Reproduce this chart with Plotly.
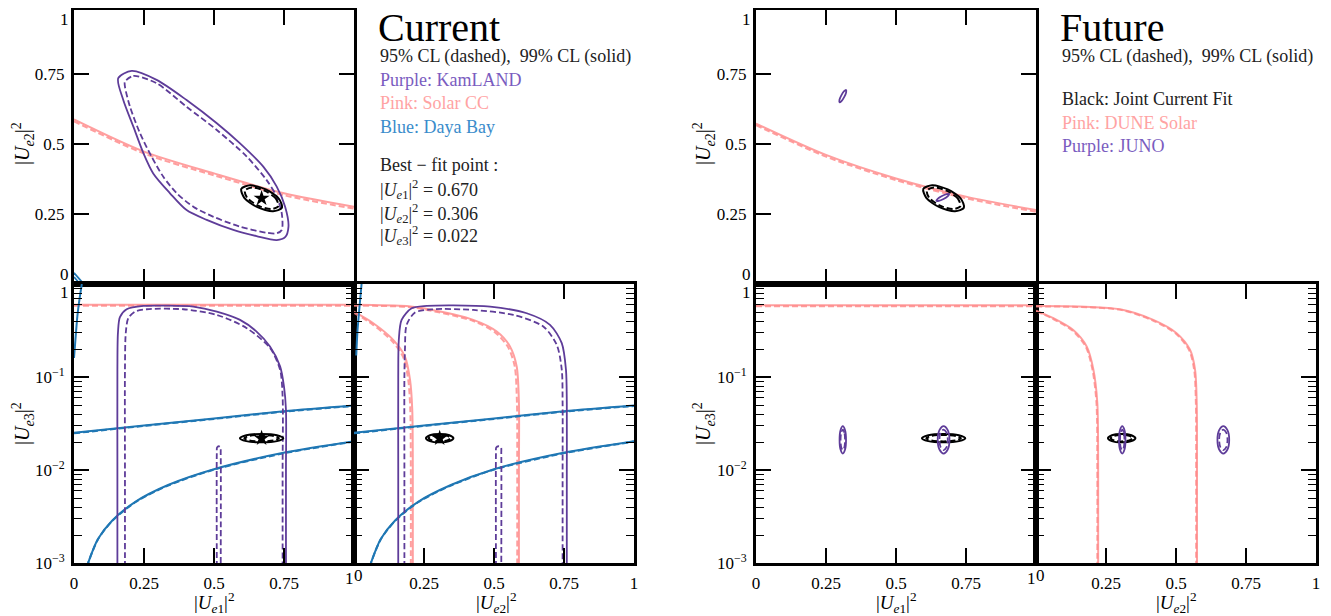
import plotly.graph_objects as go

W, H = 1331, 616
PAGE_OFFSET = 8   # the page body margin that the browser puts round the figure
FONT = "Liberation Serif"

PURPLE = "#5e3c99"
PINK = "rgba(255,135,135,0.8)"
BLUE = "#1f77b4"
BLACK = "#000000"

# ---------------- best-fit point ----------------
BEST_UE1 = 0.670
BEST_UE2 = 0.306
BEST_UE3 = 0.022

# ---------------- CURRENT: |Ue1|^2 vs |Ue2|^2 ----------------
KL12_SOLID_X = [0.158, 0.206, 0.295, 0.402, 0.510, 0.593, 0.676, 0.724, 0.754, 0.766, 0.754, 0.724,
                0.652, 0.569, 0.474, 0.402, 0.343, 0.283, 0.248, 0.212, 0.176, 0.158]
KL12_SOLID_Y = [0.735, 0.761, 0.729, 0.657, 0.574, 0.502, 0.419, 0.348, 0.276, 0.205, 0.167, 0.157,
                0.171, 0.193, 0.229, 0.264, 0.324, 0.395, 0.467, 0.562, 0.657, 0.735]
KL12_DASH_X = [0.182, 0.212, 0.295, 0.402, 0.510, 0.617, 0.688, 0.724, 0.742, 0.742, 0.724, 0.688,
               0.593, 0.498, 0.426, 0.367, 0.319, 0.277, 0.236, 0.200, 0.182, 0.182]
KL12_DASH_Y = [0.723, 0.743, 0.717, 0.633, 0.550, 0.455, 0.371, 0.312, 0.252, 0.193, 0.181, 0.183,
               0.205, 0.240, 0.276, 0.324, 0.383, 0.455, 0.538, 0.633, 0.705, 0.723]

SOLAR12_X = [0.0, 0.25, 0.5, 0.75, 1.0]
SOLAR12_SOLID_Y = [0.588, 0.473, 0.395, 0.324, 0.276]
SOLAR12_DASH_Y = [0.581, 0.466, 0.388, 0.317, 0.269]

DB12_A_X = [0.0, 0.035]
DB12_A_Y = [0.040, 0.0]
DB12_B_X = [0.0, 0.022]
DB12_B_Y = [0.025, 0.0]

BLACK12_SOLID_X = [0.7425, 0.7318, 0.6848, 0.6292, 0.5975, 0.6082, 0.6552, 0.7108, 0.7425]
BLACK12_SOLID_Y = [0.2722, 0.3045, 0.3377, 0.3523, 0.3398, 0.3075, 0.2743, 0.2597, 0.2722]
BLACK12_DASH_X = [0.7298, 0.7210, 0.6823, 0.6364, 0.6102, 0.6190, 0.6577, 0.7036, 0.7298]
BLACK12_DASH_Y = [0.2781, 0.3048, 0.3323, 0.3444, 0.3339, 0.3072, 0.2797, 0.2676, 0.2781]

# ---------------- CURRENT: |Ue1|^2 vs |Ue3|^2 ----------------
KL13_SOLID_X = [0.155, 0.155, 0.155, 0.157, 0.164, 0.188, 0.248, 0.331, 0.426, 0.510, 0.593, 0.652,
                0.700, 0.736, 0.750, 0.757, 0.757, 0.757]
KL13_SOLID_Y = [0.0009, 0.01, 0.12, 0.30, 0.44, 0.535, 0.581, 0.585, 0.571, 0.505, 0.411, 0.308,
                0.213, 0.130, 0.079, 0.0447, 0.01, 0.0009]
KL13_DASH_X = [0.182, 0.182, 0.182, 0.185, 0.194, 0.218, 0.260, 0.390, 0.510, 0.617, 0.700, 0.736,
               0.745, 0.745, 0.745]
KL13_DASH_Y = [0.0009, 0.01, 0.12, 0.30, 0.429, 0.505, 0.535, 0.535, 0.465, 0.335, 0.205, 0.12,
               0.062, 0.01, 0.0009]
KL13_SPIKE_X = [0.510, 0.510, 0.511, 0.517, 0.523, 0.524, 0.524]
KL_SPIKE_Y = [0.0009, 0.015, 0.0175, 0.018, 0.0175, 0.015, 0.0009]

SOLAR13_X = [0.0, 1.0]
SOLAR13_SOLID_Y = [0.600, 0.600]
SOLAR13_DASH_Y = [0.585, 0.585]

DB_UP_X = [0.0, 0.25, 0.5, 0.75, 1.0]
DB_UP_SOLID_Y = [0.0251, 0.0301, 0.0358, 0.0428, 0.0493]
DB_UP_DASH_Y = [0.0248, 0.0298, 0.0354, 0.0424, 0.0488]
DB_LO_X = [0.045, 0.085, 0.136, 0.219, 0.336, 0.5, 0.748, 1.0]
DB_LO_SOLID_Y = [0.0009, 0.00180, 0.00285, 0.00455, 0.0069, 0.0102, 0.0153, 0.0204]
DB_LO_DASH_Y = [0.0009, 0.00178, 0.00282, 0.00450, 0.0068, 0.0101, 0.0151, 0.0202]
DB23_LO_X = [0.055, 0.095, 0.146, 0.229, 0.346, 0.5, 0.748, 1.0]
DB13_STEEP_X = [0.0, 0.005, 0.012, 0.020, 0.028]
DB13_STEEP_Y = [0.16, 0.25, 0.45, 0.70, 1.0]

BLACK13_SOLID_X = [0.7475, 0.7248, 0.67, 0.6152, 0.5925, 0.6152, 0.67, 0.7248, 0.7475]
BLACK13_DASH_X = [0.732, 0.7138, 0.67, 0.6262, 0.608, 0.6262, 0.67, 0.7138, 0.732]
BLACK_E3_SOLID_Y = [0.022, 0.02366, 0.0244, 0.02366, 0.022, 0.02045, 0.01983, 0.02045, 0.022]
BLACK_E3_DASH_Y = [0.022, 0.02326, 0.02384, 0.02326, 0.022, 0.02081, 0.0203, 0.02081, 0.022]

# ---------------- CURRENT: |Ue2|^2 vs |Ue3|^2 ----------------
KL23_SOLID_X = [0.158, 0.158, 0.158, 0.160, 0.170, 0.206, 0.260, 0.355, 0.486, 0.617, 0.700, 0.742,
                0.757, 0.760, 0.760, 0.760]
KL23_SOLID_Y = [0.0009, 0.01, 0.10, 0.25, 0.411, 0.548, 0.581, 0.590, 0.571, 0.485, 0.364, 0.231,
                0.12, 0.0526, 0.01, 0.0009]
KL23_DASH_X = [0.180, 0.180, 0.180, 0.182, 0.188, 0.218, 0.283, 0.426, 0.569, 0.676, 0.724, 0.742,
               0.745, 0.745, 0.745]
KL23_DASH_Y = [0.0009, 0.01, 0.10, 0.20, 0.364, 0.493, 0.535, 0.526, 0.465, 0.349, 0.222, 0.12,
               0.0526, 0.01, 0.0009]
KL23_SPIKE_X = [0.507, 0.507, 0.508, 0.516, 0.525, 0.526, 0.526]

SOLAR23_OUT_SOLID_X = [0.0, 0.188, 0.248, 0.426, 0.510, 0.557, 0.581, 0.589, 0.589, 0.589]
SOLAR23_OUT_SOLID_Y = [0.600, 0.581, 0.548, 0.411, 0.308, 0.213, 0.130, 0.0526, 0.01, 0.0009]
SOLAR23_OUT_DASH_X = [0.0, 0.188, 0.248, 0.426, 0.505, 0.550, 0.574, 0.582, 0.583, 0.583]
SOLAR23_OUT_DASH_Y = [0.585, 0.568, 0.535, 0.400, 0.300, 0.210, 0.130, 0.0526, 0.01, 0.0009]
SOLAR23_IN_SOLID_X = [0.0, 0.069, 0.140, 0.182, 0.200, 0.208, 0.210, 0.210]
SOLAR23_IN_SOLID_Y = [0.505, 0.379, 0.251, 0.166, 0.0936, 0.0447, 0.01, 0.0009]
SOLAR23_IN_DASH_X = [0.0, 0.065, 0.135, 0.176, 0.194, 0.201, 0.203, 0.203]
SOLAR23_IN_DASH_Y = [0.490, 0.370, 0.245, 0.163, 0.092, 0.0447, 0.01, 0.0009]

DB23_STEEP_X = [0.008, 0.012, 0.018, 0.027]
DB23_STEEP_Y = [0.17, 0.30, 0.50, 1.0]

BLACK23_SOLID_X = [0.355, 0.3407, 0.306, 0.2713, 0.257, 0.2713, 0.306, 0.3407, 0.355]
BLACK23_DASH_X = [0.345, 0.3336, 0.306, 0.2784, 0.267, 0.2784, 0.306, 0.3336, 0.345]

# ---------------- FUTURE ----------------
DUNE12_X = [0.0, 0.25, 0.5, 0.75, 1.0]
DUNE12_SOLID_Y = [0.573, 0.461, 0.377, 0.312, 0.264]
DUNE12_DASH_Y = [0.567, 0.455, 0.371, 0.306, 0.258]

JUNO12_A_X = [0.3217, 0.3146, 0.3047, 0.2980, 0.2983, 0.3054, 0.3153, 0.3220, 0.3217]
JUNO12_A_Y = [0.6931, 0.6886, 0.6738, 0.6574, 0.6489, 0.6534, 0.6682, 0.6846, 0.6931]
JUNO12_B_X = [0.6900, 0.6812, 0.6642, 0.6488, 0.6440, 0.6528, 0.6698, 0.6852, 0.6900]
JUNO12_B_Y = [0.3212, 0.3213, 0.3143, 0.3041, 0.2968, 0.2967, 0.3037, 0.3139, 0.3212]

DUNE13_X = [0.0, 1.0]
DUNE13_SOLID_Y = [0.590, 0.590]
DUNE13_DASH_Y = [0.578, 0.578]

JUNO_E3_SOLID_Y = [0.0211, 0.0268, 0.0296, 0.0268, 0.0211, 0.0166, 0.01503, 0.0166, 0.0211]
JUNO_E3_DASH_Y = [0.0211, 0.0252, 0.0272, 0.0252, 0.0211, 0.0176, 0.01637, 0.0176, 0.0211]
JUNO13_A_X = [0.3215, 0.3181, 0.31, 0.3019, 0.2985, 0.3019, 0.31, 0.3181, 0.3215]
JUNO13_A_DASH_X = [0.318, 0.3157, 0.31, 0.3043, 0.302, 0.3043, 0.31, 0.3157, 0.318]
JUNO13_B_X = [0.691, 0.6848, 0.67, 0.6552, 0.649, 0.6552, 0.67, 0.6848, 0.691]
JUNO13_B_DASH_X = [0.685, 0.6806, 0.67, 0.6594, 0.655, 0.6594, 0.67, 0.6806, 0.685]

DUNE23_OUT_SOLID_X = [0.0, 0.300, 0.419, 0.502, 0.550, 0.568, 0.574, 0.575, 0.575]
DUNE23_OUT_SOLID_Y = [0.581, 0.535, 0.411, 0.296, 0.196, 0.120, 0.0526, 0.01, 0.0009]
DUNE23_OUT_DASH_X = [0.0, 0.297, 0.416, 0.499, 0.547, 0.565, 0.571, 0.572, 0.572]
DUNE23_OUT_DASH_Y = [0.574, 0.530, 0.407, 0.293, 0.194, 0.119, 0.0526, 0.01, 0.0009]
DUNE23_IN_SOLID_X = [0.0, 0.062, 0.133, 0.181, 0.205, 0.219, 0.222, 0.222]
DUNE23_IN_SOLID_Y = [0.518, 0.429, 0.320, 0.213, 0.120, 0.0526, 0.01, 0.0009]
DUNE23_IN_DASH_X = [0.0, 0.060, 0.130, 0.178, 0.202, 0.216, 0.219, 0.219]
DUNE23_IN_DASH_Y = [0.510, 0.423, 0.316, 0.211, 0.119, 0.0526, 0.01, 0.0009]

JUNO23_A_X = [0.3195, 0.3161, 0.308, 0.2999, 0.2965, 0.2999, 0.308, 0.3161, 0.3195]
JUNO23_A_DASH_X = [0.316, 0.3137, 0.308, 0.3023, 0.300, 0.3023, 0.308, 0.3137, 0.316]
JUNO23_B_X = [0.690, 0.6838, 0.669, 0.6542, 0.648, 0.6542, 0.669, 0.6838, 0.690]
JUNO23_B_DASH_X = [0.684, 0.6796, 0.669, 0.6584, 0.654, 0.6584, 0.669, 0.6796, 0.684]

# ---------------- text ----------------
CURRENT_LINES = [
    ("95% CL (dashed),  99% CL (solid)", "#222222", 56),
    ("Purple: KamLAND", "#7a5cc0", 80),
    ("Pink: Solar CC", "#ffa3a3", 103),
    ("Blue: Daya Bay", "#3a8ccb", 127),
    ("Best − fit point :", "#222222", 165),
    ("|<i>U</i><sub><i>e</i>1</sub>|<sup>2</sup> = 0.670", "#222222", 190),
    ("|<i>U</i><sub><i>e</i>2</sub>|<sup>2</sup> = 0.306", "#222222", 213),
    ("|<i>U</i><sub><i>e</i>3</sub>|<sup>2</sup> = 0.022", "#222222", 236),
]
FUTURE_LINES = [
    ("95% CL (dashed),  99% CL (solid)", "#222222", 56),
    ("Black: Joint Current Fit", "#222222", 99),
    ("Pink: DUNE Solar", "#ffa3a3", 123),
    ("Purple: JUNO", "#7a5cc0", 146),
]

# ---------------- geometry (screen pixels) ----------------
def px(x):
    return (x - PAGE_OFFSET) / W

def py(y):
    return 1 - (y - PAGE_OFFSET) / H

PANEL_X = {1: (74, 354), 2: (74, 354), 3: (354, 634), 4: (756, 1036), 5: (756, 1036), 6: (1036, 1316)}
TOP_EDGE = PAGE_OFFSET + 2      # top panels start as high as the page allows
TOP_Y = (TOP_EDGE, 284)
TOP_YMAX = (284 - TOP_EDGE) / 280.0   # keeps 280 px per unit, as on the x axes
BOT_Y = (284, 563)

fig = go.Figure()


def add(panel, xs, ys, color, dash="solid", width=1.8):
    ax = "" if panel == 1 else str(panel)
    fig.add_trace(go.Scatter(
        x=xs, y=ys, mode="lines", xaxis="x" + ax, yaxis="y" + ax,
        line=dict(color=color, width=width, dash=dash, shape="spline", smoothing=0.8),
        hoverinfo="skip", showlegend=False))


DASH = "6px,3px"

# panel 1 (current, Ue1-Ue2)
add(1, SOLAR12_X, SOLAR12_SOLID_Y, PINK, width=2)
add(1, SOLAR12_X, SOLAR12_DASH_Y, PINK, DASH, width=2)
add(1, DB12_A_X, DB12_A_Y, BLUE)
add(1, DB12_B_X, DB12_B_Y, BLUE, DASH)
add(1, KL12_SOLID_X, KL12_SOLID_Y, PURPLE)
add(1, KL12_DASH_X, KL12_DASH_Y, PURPLE, DASH)
add(1, BLACK12_SOLID_X, BLACK12_SOLID_Y, BLACK, width=2)
add(1, BLACK12_DASH_X, BLACK12_DASH_Y, BLACK, DASH, width=2)

# panel 2 (current, Ue1-Ue3)
add(2, SOLAR13_X, SOLAR13_SOLID_Y, PINK, width=2)
add(2, SOLAR13_X, SOLAR13_DASH_Y, PINK, DASH, width=2)
add(2, DB_UP_X, DB_UP_SOLID_Y, BLUE, width=2)
add(2, DB_UP_X, DB_UP_DASH_Y, BLUE, DASH, width=2)
add(2, DB_LO_X, DB_LO_SOLID_Y, BLUE, width=2)
add(2, DB_LO_X, DB_LO_DASH_Y, BLUE, DASH, width=2)
add(2, DB13_STEEP_X, DB13_STEEP_Y, BLUE, width=2)
add(2, KL13_SOLID_X, KL13_SOLID_Y, PURPLE)
add(2, KL13_DASH_X, KL13_DASH_Y, PURPLE, DASH)
add(2, KL13_SPIKE_X, KL_SPIKE_Y, PURPLE, DASH)
add(2, BLACK13_SOLID_X, BLACK_E3_SOLID_Y, BLACK, width=2)
add(2, BLACK13_DASH_X, BLACK_E3_DASH_Y, BLACK, DASH, width=2)

# panel 3 (current, Ue2-Ue3)
add(3, SOLAR23_OUT_SOLID_X, SOLAR23_OUT_SOLID_Y, PINK, width=2)
add(3, SOLAR23_OUT_DASH_X, SOLAR23_OUT_DASH_Y, PINK, DASH, width=2)
add(3, SOLAR23_IN_SOLID_X, SOLAR23_IN_SOLID_Y, PINK, width=2)
add(3, SOLAR23_IN_DASH_X, SOLAR23_IN_DASH_Y, PINK, DASH, width=2)
add(3, DB_UP_X, DB_UP_SOLID_Y, BLUE, width=2)
add(3, DB_UP_X, DB_UP_DASH_Y, BLUE, DASH, width=2)
add(3, DB23_LO_X, DB_LO_SOLID_Y, BLUE, width=2)
add(3, DB23_LO_X, DB_LO_DASH_Y, BLUE, DASH, width=2)
add(3, DB23_STEEP_X, DB23_STEEP_Y, BLUE, width=2)
add(3, KL23_SOLID_X, KL23_SOLID_Y, PURPLE)
add(3, KL23_DASH_X, KL23_DASH_Y, PURPLE, DASH)
add(3, KL23_SPIKE_X, KL_SPIKE_Y, PURPLE, DASH)
add(3, BLACK23_SOLID_X, BLACK_E3_SOLID_Y, BLACK, width=2)
add(3, BLACK23_DASH_X, BLACK_E3_DASH_Y, BLACK, DASH, width=2)

# panel 4 (future, Ue1-Ue2)
add(4, DUNE12_X, DUNE12_SOLID_Y, PINK, width=2)
add(4, DUNE12_X, DUNE12_DASH_Y, PINK, DASH, width=2)
add(4, BLACK12_SOLID_X, BLACK12_SOLID_Y, BLACK, width=2)
add(4, BLACK12_DASH_X, BLACK12_DASH_Y, BLACK, DASH, width=2)
add(4, JUNO12_A_X, JUNO12_A_Y, PURPLE)
add(4, JUNO12_B_X, JUNO12_B_Y, PURPLE)

# panel 5 (future, Ue1-Ue3)
add(5, DUNE13_X, DUNE13_SOLID_Y, PINK, width=2)
add(5, DUNE13_X, DUNE13_DASH_Y, PINK, DASH, width=2)
add(5, BLACK13_SOLID_X, BLACK_E3_SOLID_Y, BLACK, width=2)
add(5, BLACK13_DASH_X, BLACK_E3_DASH_Y, BLACK, DASH, width=2)
add(5, JUNO13_A_X, JUNO_E3_SOLID_Y, PURPLE)
add(5, JUNO13_A_DASH_X, JUNO_E3_DASH_Y, PURPLE, DASH)
add(5, JUNO13_B_X, JUNO_E3_SOLID_Y, PURPLE)
add(5, JUNO13_B_DASH_X, JUNO_E3_DASH_Y, PURPLE, DASH)

# panel 6 (future, Ue2-Ue3)
add(6, DUNE23_OUT_SOLID_X, DUNE23_OUT_SOLID_Y, PINK, width=2)
add(6, DUNE23_OUT_DASH_X, DUNE23_OUT_DASH_Y, PINK, DASH, width=2)
add(6, DUNE23_IN_SOLID_X, DUNE23_IN_SOLID_Y, PINK, width=2)
add(6, DUNE23_IN_DASH_X, DUNE23_IN_DASH_Y, PINK, DASH, width=2)
add(6, BLACK23_SOLID_X, BLACK_E3_SOLID_Y, BLACK, width=2)
add(6, BLACK23_DASH_X, BLACK_E3_DASH_Y, BLACK, DASH, width=2)
add(6, JUNO23_A_X, JUNO_E3_SOLID_Y, PURPLE)
add(6, JUNO23_A_DASH_X, JUNO_E3_DASH_Y, PURPLE, DASH)
add(6, JUNO23_B_X, JUNO_E3_SOLID_Y, PURPLE)
add(6, JUNO23_B_DASH_X, JUNO_E3_DASH_Y, PURPLE, DASH)

# best-fit stars (current panels)
for panel, sx, sy in [(1, BEST_UE1, BEST_UE2), (2, BEST_UE1, BEST_UE3), (3, BEST_UE2, BEST_UE3)]:
    ax = "" if panel == 1 else str(panel)
    fig.add_trace(go.Scatter(x=[sx], y=[sy], mode="markers", xaxis="x" + ax, yaxis="y" + ax,
                             marker=dict(symbol="star", size=12, color="black"),
                             hoverinfo="skip", showlegend=False))

# ---------------- axes ----------------
TICKSIZE = 17
TICKFONT = dict(family=FONT, size=TICKSIZE, color="black")
LIN_TICKS = [0, 0.25, 0.5, 0.75, 1]
LOG_TICKS = [0.001, 0.01, 0.1, 1]
LOG_MINOR = [m * 10.0 ** e for e in (-3, -2, -1) for m in range(2, 10)]


def base_axis(domain):
    return dict(domain=domain, showline=True, linewidth=3, linecolor="black", mirror="allticks",
                ticks="inside", ticklen=15, tickwidth=1.5, tickcolor="black", showgrid=False,
                zeroline=False, tickfont=TICKFONT, ticklabelstandoff=3, fixedrange=True,
                automargin=False)


def dom_x(p):
    a, b = PANEL_X[p]
    return [px(a), px(b)]


dom_top = [py(TOP_Y[1]), py(TOP_Y[0])]
dom_bot = [py(BOT_Y[1]), py(BOT_Y[0])]

layout_axes = {}
for p in range(1, 7):
    key = "" if p == 1 else str(p)
    top = p in (1, 4)
    xa = base_axis(dom_x(p))
    xa.update(range=[0, 1], tickmode="array", tickvals=LIN_TICKS, anchor="y" + key)
    if top:
        xa.update(showticklabels=False)
    elif p in (2, 5):
        xa.update(ticktext=["0", "0.25", "0.5", "0.75", ""])
    else:
        xa.update(ticktext=["", "0.25", "0.5", "0.75", "1"])
    ya = base_axis(dom_top if top else dom_bot)
    ya.update(anchor="x" + key)
    if top:
        ya.update(range=[0, TOP_YMAX], tickmode="array", tickvals=LIN_TICKS,
                  ticktext=["", "0.25", "0.5", "0.75", ""])
    else:
        ya.update(type="log", range=[-3, 0], tickmode="array", tickvals=LOG_TICKS,
                  ticktext=["10<sup>−3</sup>", "10<sup>−2</sup>", "10<sup>−1</sup>", ""],
                  minor=dict(tickmode="array", tickvals=LOG_MINOR, ticks="inside", ticklen=8,
                             tickwidth=1.2, tickcolor="black", showgrid=False))
    if p in (3, 6):
        ya.update(showticklabels=False)
    layout_axes["xaxis" + key] = xa
    layout_axes["yaxis" + key] = ya

# ---------------- annotations ----------------
ann = []


def text(x, y, s, size, color="black", xanchor="left", yanchor="middle", angle=0):
    ann.append(dict(x=px(x), y=py(y), xref="paper", yref="paper", text=s, showarrow=False,
                    xanchor=xanchor, yanchor=yanchor, textangle=angle,
                    font=dict(family=FONT, size=size, color=color)))


UE = {i: "|<i>U</i><sub><i>e</i>%d</sub>|<sup>2</sup>" % i for i in (1, 2, 3)}

# end tick labels placed by hand (they crowd at the panel joins)
for axx in (74, 756):
    text(axx - 3, 20, "1", TICKSIZE, xanchor="right")
    text(axx - 3, 274, "0", TICKSIZE, xanchor="right")
    text(axx - 3, 292, "1", TICKSIZE, xanchor="right")
for junc in (354, 1036):
    text(junc - 5, 578, "1", TICKSIZE, xanchor="center")
    text(junc + 4, 575, "0", TICKSIZE, xanchor="center")

# axis titles
TS = 19
text(214, 602, UE[1], TS, xanchor="center")
text(496, 602, UE[2], TS, xanchor="center")
text(896, 602, UE[1], TS, xanchor="center")
text(1176, 602, UE[2], TS, xanchor="center")
text(23, 144, UE[2], TS + 1, xanchor="center", angle=-90)
text(23, 424, UE[3], TS + 1, xanchor="center", angle=-90)
text(704, 144, UE[2], TS + 1, xanchor="center", angle=-90)
text(704, 424, UE[3], TS + 1, xanchor="center", angle=-90)

# info blocks
text(376, 28, "Current", 40)
for s, c, y in CURRENT_LINES:
    text(378, y, s, 18, c)
text(1058, 28, "Future", 40)
for s, c, y in FUTURE_LINES:
    text(1060, y, s, 18, c)

fig.update_layout(
    width=W, height=H, autosize=False,
    margin=dict(l=0, r=0, t=0, b=0, autoexpand=False),
    paper_bgcolor="white", plot_bgcolor="white",
    showlegend=False, hovermode=False,
    annotations=ann,
    **layout_axes,
)

fig.write_html("out.html")
